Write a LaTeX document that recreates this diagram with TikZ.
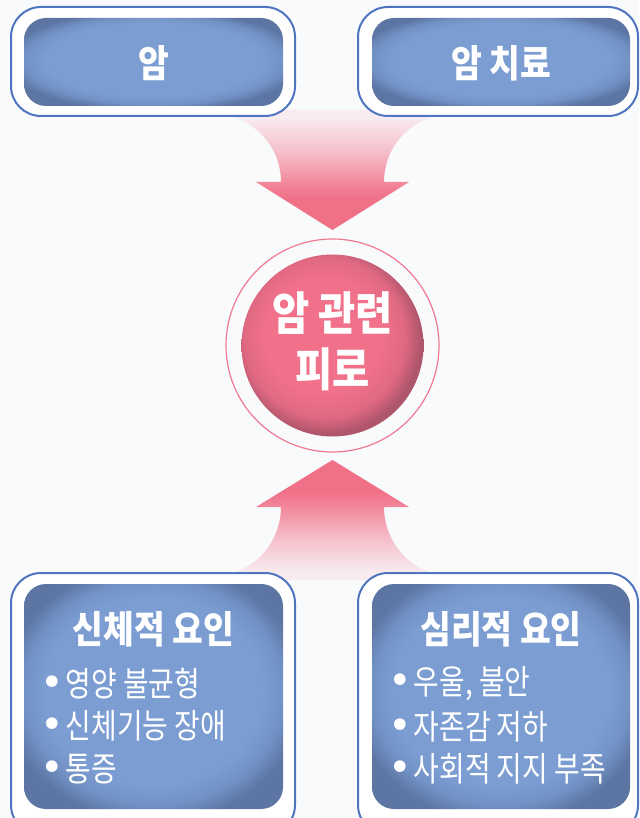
\documentclass[tikz,border=0pt]{standalone}
\usepackage{fontspec}
\newfontfamily\krreg{Noto Sans CJK KR}[FakeStretch=0.82]
\newfontfamily\krbold{Noto Sans CJK KR}[FakeStretch=0.88]
\newfontfamily\bulfont{DejaVu Sans}
\definecolor{bg}{HTML}{F8FAFC}
\definecolor{boxline}{HTML}{4F75C0}
\definecolor{boxlight}{HTML}{7C9DD2}
\definecolor{boxmid}{HTML}{7292C6}
\definecolor{boxdark}{HTML}{5C75A2}
\definecolor{pinkmain}{HTML}{F07088}
\definecolor{pinkA}{HTML}{F2899B}
\definecolor{pinkB}{HTML}{F5C0CB}
\definecolor{pinkfade}{HTML}{F8ECF0}
\definecolor{ballc}{HTML}{F07189}
\definecolor{ballm}{HTML}{E06982}
\definecolor{balld}{HTML}{B0566C}
\definecolor{ringc}{HTML}{F07890}
\pgfdeclareradialshading{boxshade}{\pgfpoint{0bp}{2bp}}{color(0bp)=(boxlight); color(21bp)=(boxlight); color(25bp)=(boxmid); color(29bp)=(boxdark); color(50bp)=(boxdark)}
\pgfdeclareradialshading{ballshade}{\pgfpoint{-4bp}{4bp}}{color(0bp)=(ballc); color(16bp)=(ballc); color(22bp)=(ballm); color(26bp)=(balld); color(50bp)=(balld)}
\pgfdeclareverticalshading{arrowdown}{100bp}{color(0bp)=(pinkmain); color(38bp)=(pinkmain); color(45bp)=(pinkA); color(58bp)=(pinkB); color(72bp)=(pinkfade); color(100bp)=(pinkfade)}
\pgfdeclareverticalshading{arrowup}{100bp}{color(0bp)=(pinkfade); color(28bp)=(pinkfade); color(42bp)=(pinkB); color(55bp)=(pinkA); color(62bp)=(pinkmain); color(100bp)=(pinkmain)}
\newcommand{\bul}{{\bulfont\fontsize{40}{40}\selectfont •}\hspace{2pt}}
\begin{document}
\begin{tikzpicture}[x=1pt,y=-1pt,
  outerbox/.style={draw=boxline, line width=2pt, fill=white, rounded corners=30pt},
  innerbox/.style={shading=boxshade, rounded corners=22pt},
  titletext/.style={text=white, inner sep=0pt, font=\krbold\bfseries\fontsize{38}{42}\selectfont},
  balltext/.style={text=white, inner sep=0pt, align=center, font=\krbold\bfseries\fontsize{46}{56}\selectfont},
  itemtext/.style={text=white, inner sep=0pt, anchor=west, font=\krreg\fontsize{34}{38}\selectfont}]
\useasboundingbox (0,0) rectangle (639,818);
\clip (0,0) rectangle (639,818);
\fill[bg] (0,0) rectangle (639,818);
% block arrows
\shade[shading=arrowdown] (233,110) -- (233,117) .. controls (261.6,125.8) and (281,152) .. (281,182) -- (256,182) -- (332.5,230) -- (409,182) -- (384,182) .. controls (384,152) and (403.4,125.8) .. (432,117) -- (432,110) -- cycle;
\shade[shading=arrowup] (233,580) -- (233,573) .. controls (261.6,564.2) and (281,537) .. (281,507) -- (256,507) -- (332.5,460) -- (409,507) -- (384,507) .. controls (384,537) and (403.4,564.2) .. (432,573) -- (432,580) -- cycle;
% top boxes
\draw[outerbox] (11,7) rectangle (295,116);
\shade[innerbox] (24,18) rectangle (283,106);
\node[titletext] (t1) at (153.5,63) {암};
\draw[outerbox] (358,7) rectangle (638,116);
\shade[innerbox] (372,18) rectangle (630,106);
\node[titletext] (t2) at (501,63) {암 치료};
% circle
\draw[draw=ringc, line width=1.2pt, fill=bg] (332.5,345.5) circle[radius=106.5pt];
\shade[shading=ballshade] (332.5,345.5) circle[radius=91pt];
\node[balltext] (c) at (332.5,341) {암 관련\\피로};
% bottom boxes
\draw[outerbox] (11,573) rectangle (295,835);
\shade[innerbox] (24,584) rectangle (283,809);
\node[titletext] (b1) at (153.5,629) {신체적 요인};
\node[itemtext] (b1a) at (40,684) {\bul 영양 불균형};
\node[itemtext] (b1b) at (40,726) {\bul 신체기능 장애};
\node[itemtext] (b1c) at (40,769) {\bul 통증};
\draw[outerbox] (358,573) rectangle (638,835);
\shade[innerbox] (372,584) rectangle (630,809);
\node[titletext] (b2) at (501,629) {심리적 요인};
\node[itemtext] (b2a) at (388,684) {\bul 우울, 불안};
\node[itemtext] (b2b) at (388,727) {\bul 자존감 저하};
\node[itemtext] (b2c) at (388,769) {\bul 사회적 지지 부족};
\end{tikzpicture}
\end{document}
